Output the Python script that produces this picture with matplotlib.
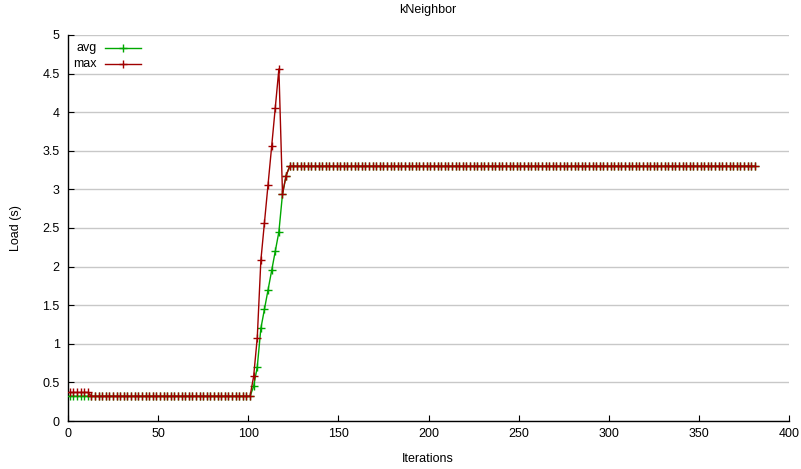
import matplotlib

matplotlib.use("Agg")
import matplotlib.pyplot as plt
from matplotlib.lines import Line2D

plt.rcParams["font.family"] = ["Liberation Sans", "DejaVu Sans"]

# iterations sampled every 2 steps
iterations = list(range(1, 382, 2))

# load values (seconds)
avg_start = [0.32] * 6
max_start = [0.37] * 6
avg_flat_low = [0.32] * 45
max_flat_low = [0.32] * 45
avg_ramp = [0.45, 0.70, 1.20, 1.45, 1.70, 1.95, 2.20, 2.45, 2.94, 3.18]
max_ramp = [0.58, 1.08, 2.08, 2.57, 3.06, 3.56, 4.06, 4.56, 2.94, 3.18]
n_high = len(iterations) - len(avg_start) - len(avg_flat_low) - len(avg_ramp)
avg_flat_high = [3.30] * n_high
max_flat_high = [3.30] * n_high

avg_load = avg_start + avg_flat_low + avg_ramp + avg_flat_high
max_load = max_start + max_flat_low + max_ramp + max_flat_high

series_names = ["avg", "max"]
series_colors = ["#00a800", "#a00000"]

y_ticks = [0, 0.5, 1, 1.5, 2, 2.5, 3, 3.5, 4, 4.5, 5]
y_labels = ["0", "0.5", "1", "1.5", "2", "2.5", "3", "3.5", "4", "4.5", "5"]
x_ticks = [0, 50, 100, 150, 200, 250, 300, 350, 400]

W, H = 801, 469
fig = plt.figure(figsize=(W / 100, H / 100), dpi=100)
ax = fig.add_axes([68 / W, 48 / H, 721 / W, 386 / H])

for y in y_ticks:
    ax.axhline(y, color="#c8c8c8", lw=1, zorder=0)

for name, color, values, z in zip(series_names, series_colors,
                                  [avg_load, max_load], [3, 4]):
    ax.plot(iterations, values, color=color, lw=1, marker="+", ms=6,
            mew=1, zorder=z)

ax.set_xlim(0, 400)
ax.set_ylim(0, 5)
ax.set_xticks(x_ticks)
ax.set_yticks(y_ticks)
ax.set_yticklabels(y_labels)
ax.tick_params(direction="in", length=4, labelsize=9, colors="black", pad=6)
ax.tick_params(axis="x", pad=5)
for side in ("top", "right"):
    ax.spines[side].set_visible(False)
for side in ("left", "bottom"):
    ax.spines[side].set_linewidth(1)

fig.text(428 / W, 1 - 10 / H, "kNeighbor", fontsize=9, ha="center", va="center")
fig.text(428 / W, 1 - 459 / H, "Iterations", fontsize=9,
         ha="center", va="center")
fig.text(16 / W, 1 - 228 / H, "Load (s)", fontsize=9, rotation=90,
         ha="center", va="center")

# gnuplot-style key: right-aligned text, then the sample line
for i, (name, color) in enumerate(zip(series_names, series_colors)):
    yk = 1 - (48 + 16 * i) / H
    fig.text(97 / W, yk, name, fontsize=9, ha="right", va="center")
    fig.add_artist(Line2D([105 / W, 141 / W], [yk, yk], color=color, lw=1,
                          transform=fig.transFigure))
    fig.add_artist(Line2D([123 / W], [yk], color=color, marker="+", ms=6,
                          mew=1, transform=fig.transFigure))

fig.savefig("out.png", dpi=100)
